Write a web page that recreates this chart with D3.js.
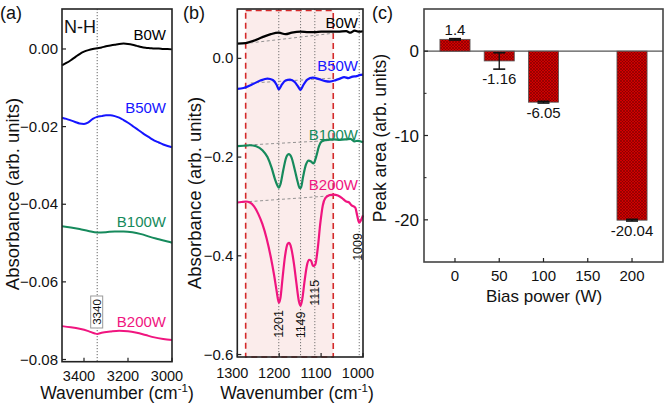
<!DOCTYPE html>
<html><head><meta charset="utf-8">
<script src="https://cdn.jsdelivr.net/npm/d3@7"></script>
<style>
html,body{margin:0;padding:0;background:#fff;}
svg{display:block;font-family:Arial,"Liberation Sans",sans-serif;}
</style></head>
<body>
<svg id="chart" width="664" height="405"></svg>
<script>
// ---------- Panel (a): N-H region ----------
const wnA_B0W = [3500,3480,3460,3440,3420,3400,3380,3360,3340,3320,3300,3280,3260,3240,3220,3200,3180,3160,3140,3120,3100,3080,3060,3040,3020,3000];
const absA_B0W = [-0.0042,-0.0036,-0.0029,-0.0021,-0.0013,-0.0007,-0.0003,0.0,0.0002,0.0004,0.0007,0.0009,0.0011,0.0013,0.0014,0.0013,0.0011,0.0008,0.0005,0.0003,0.0002,0.0001,0.0001,0.0,0.0,-0.0001];
const wnA_B50W = [3500,3480,3460,3440,3420,3400,3380,3360,3340,3320,3300,3280,3260,3240,3220,3200,3180,3160,3140,3120,3100,3080,3060,3040,3020,3000];
const absA_B50W = [-0.0177,-0.0180,-0.0184,-0.0188,-0.0192,-0.0193,-0.0189,-0.0180,-0.0175,-0.0173,-0.0171,-0.0171,-0.0173,-0.0177,-0.0183,-0.0190,-0.0198,-0.0206,-0.0214,-0.0222,-0.0229,-0.0236,-0.0241,-0.0246,-0.0250,-0.0253];
const wnA_B100W = [3500,3460,3420,3380,3340,3300,3260,3220,3180,3140,3100,3060,3020,3000];
const absA_B100W = [-0.0457,-0.0460,-0.0464,-0.0469,-0.0473,-0.0472,-0.0470,-0.0470,-0.0472,-0.0477,-0.0484,-0.0490,-0.0496,-0.0499];
const wnA_B200W = [3500,3460,3420,3380,3350,3340,3320,3280,3240,3200,3160,3120,3080,3040,3000];
const absA_B200W = [-0.0714,-0.0717,-0.0721,-0.0727,-0.0733,-0.0734,-0.0731,-0.0728,-0.0726,-0.0727,-0.0731,-0.0737,-0.0743,-0.0747,-0.0750];
const ticksA_x = [3400,3200,3000];
const ticksA_y = [0,-0.02,-0.04,-0.06,-0.08];
const markA = 3340;

// ---------- Panel (b): Si-O region ----------
const wnB_B0W = [1300,1280,1260,1240,1220,1201,1185,1170,1149,1130,1115,1100,1080,1060,1040,1030,1020,1009,1000];
const absB_B0W = [0.030,0.031,0.036,0.043,0.049,0.052,0.049,0.052,0.054,0.053,0.053,0.054,0.054,0.054,0.055,0.052,0.056,0.054,0.055];
const wnB_B50W = [1300,1285,1265,1245,1228,1215,1206,1201,1195,1185,1174,1163,1155,1149,1143,1133,1120,1105,1090,1079,1065,1055,1045,1035,1025,1015,1009,1000];
const absB_B50W = [-0.062,-0.060,-0.053,-0.045,-0.041,-0.044,-0.054,-0.063,-0.055,-0.045,-0.043,-0.048,-0.057,-0.064,-0.055,-0.043,-0.039,-0.042,-0.046,-0.047,-0.044,-0.041,-0.038,-0.040,-0.037,-0.036,-0.034,-0.033];
const wnB_B100W = [1300,1285,1270,1255,1240,1228,1218,1210,1204,1201,1197,1190,1183,1177,1171,1163,1156,1151,1148,1143,1136,1130,1124,1118,1112,1105,1098,1085,1070,1055,1040,1030,1020,1012,1000];
const absB_B100W = [-0.178,-0.177,-0.176,-0.178,-0.186,-0.200,-0.222,-0.245,-0.258,-0.262,-0.255,-0.225,-0.200,-0.194,-0.200,-0.225,-0.250,-0.263,-0.262,-0.240,-0.215,-0.207,-0.209,-0.213,-0.200,-0.178,-0.168,-0.165,-0.164,-0.165,-0.164,-0.163,-0.168,-0.167,-0.170];
const wnB_B200W = [1300,1290,1280,1270,1260,1250,1240,1230,1220,1212,1206,1201,1197,1192,1186,1180,1176,1171,1165,1159,1153,1149,1145,1140,1134,1129,1124,1119,1114,1108,1102,1096,1090,1080,1070,1060,1050,1040,1033,1027,1022,1018,1014,1009,1005,1000];
const absB_B200W = [-0.292,-0.291,-0.290,-0.292,-0.300,-0.315,-0.336,-0.365,-0.403,-0.440,-0.472,-0.495,-0.485,-0.445,-0.400,-0.376,-0.374,-0.385,-0.415,-0.455,-0.492,-0.501,-0.488,-0.455,-0.420,-0.408,-0.410,-0.421,-0.418,-0.385,-0.335,-0.298,-0.283,-0.277,-0.276,-0.278,-0.283,-0.290,-0.292,-0.298,-0.300,-0.303,-0.318,-0.333,-0.328,-0.318];
// baselines used for peak area [wn1, abs1, wn2, abs2]
const baseB_B0W = [1282, 0.030, 1070, 0.051];
const baseB_B50W = [1268, -0.050, 1070, -0.040];
const baseB_B100W = [1285, -0.176, 1070, -0.166];
const baseB_B200W = [1285, -0.291, 1070, -0.278];
const peakWn = [1201, 1149, 1115, 1009];
const peakLabels = ["1201","1149","1115","1009"];
const peakLabelAbs = [-0.538, -0.540, -0.475, -0.382];
const regionB = [1280, 1071];
const ticksB_x = [1300,1200,1100,1000];
const ticksB_y = [0,-0.2,-0.4,-0.6];

// ---------- Panel (c): peak area ----------
const biasPower = [0, 50, 100, 200];
const peakArea = [1.4, -1.16, -6.05, -20.04];
const peakErr = [0.08, 0.97, 0.1, 0.1];
const ticksC_x = [0,50,100,150,200];
const ticksC_y = [0,-10,-20];
const minorC_y = [-5,-15];

const seriesNames = ["B0W","B50W","B100W","B200W"];
const colors = ["#000000","#1515ff","#168a5c","#f0157f"];

const svg = d3.select("#chart");

const defs = svg.append("defs");
const pat = defs.append("pattern").attr("id","hatch").attr("patternUnits","userSpaceOnUse")
  .attr("width",3).attr("height",3);
pat.append("rect").attr("width",3).attr("height",3).attr("fill","#d00000");
pat.append("path").attr("d","M0,0L3,3M3,0L0,3").attr("stroke","#7a0000").attr("stroke-width",0.6);

function frame(x0,y0,x1,y1,col){
  svg.append("rect").attr("x",x0).attr("y",y0).attr("width",x1-x0).attr("height",y1-y0)
    .attr("fill","none").attr("stroke",col||"#222").attr("stroke-width",1.6);
}
function rotText(x,y,txt,size,anchor){
  return svg.append("text").attr("transform",`translate(${x},${y}) rotate(-90)`)
    .attr("text-anchor",anchor||"middle").attr("font-size",size).attr("fill","#111").text(txt);
}
function wavTitle(cx,y){
  const t = svg.append("text").attr("x",cx).attr("y",y).attr("text-anchor","middle")
    .attr("font-size",17.5).attr("fill","#111");
  t.append("tspan").text("Wavenumber (cm");
  t.append("tspan").attr("font-size",11.5).attr("dy",-7).text("-1");
  t.append("tspan").attr("dy",7).text(")");
}

// ===== Panel A =====
const ax0=62, ax1=172, ay0=9, ay1=361.7;
const xA = d3.scaleLinear().domain([3500,3000]).range([ax0,ax1]);
const yA = d3.scaleLinear().domain([-0.08,0.0103]).range([359.5,ay0]);
svg.append("line").attr("x1",xA(markA)).attr("x2",xA(markA)).attr("y1",ay0).attr("y2",ay1)
  .attr("stroke","#555").attr("stroke-width",0.9).attr("stroke-dasharray","1.2,1.8");
const lineA = d3.line().x(d=>xA(d[0])).y(d=>yA(d[1])).curve(d3.curveMonotoneX);
const seriesA = [[wnA_B0W,absA_B0W],[wnA_B50W,absA_B50W],[wnA_B100W,absA_B100W],[wnA_B200W,absA_B200W]];
seriesA.forEach((s,i)=>{
  svg.append("path").datum(s[0].map((w,j)=>[w,s[1][j]])).attr("d",lineA)
    .attr("fill","none").attr("stroke",colors[i]).attr("stroke-width",2);
});
frame(ax0,ay0,ax1,ay1);
ticksA_y.forEach(v=>{
  svg.append("line").attr("x1",ax0).attr("x2",ax0+4).attr("y1",yA(v)).attr("y2",yA(v)).attr("stroke","#222").attr("stroke-width",1.2);
  svg.append("text").attr("x",ax0-4).attr("y",yA(v)+5).attr("text-anchor","end").attr("font-size",15).attr("fill","#111").text(d3.format(".2f")(v));
});
ticksA_x.forEach(v=>{
  svg.append("line").attr("x1",xA(v)).attr("x2",xA(v)).attr("y1",ay1).attr("y2",ay1-4).attr("stroke","#222").attr("stroke-width",1.2);
  svg.append("text").attr("x",xA(v)-5).attr("y",381).attr("text-anchor","middle").attr("font-size",14.5).attr("fill","#111").text(v);
});
svg.append("text").attr("x",64).attr("y",33).attr("font-size",18).attr("fill","#111").text("N-H");
const labA_y = [40,113,227,327];
seriesNames.forEach((n,i)=>{
  svg.append("text").attr("x",166).attr("y",labA_y[i]).attr("text-anchor","end").attr("font-size",15)
    .attr("fill",colors[i]).text(n);
});
svg.append("rect").attr("x",xA(markA)-6.5).attr("y",296).attr("width",12).attr("height",32)
  .attr("fill","#fff").attr("stroke","#999").attr("stroke-width",1);
rotText(xA(markA)+4,312,String(markA),11.5);
rotText(19,194,"Absorbance (arb. units)",18.5);
wavTitle(117,399);
svg.append("text").attr("x",0).attr("y",19).attr("font-size",18).attr("fill","#111").text("(a)");

// ===== Panel B =====
const bx0=237.3, bx1=363, by0=9, by1=357;
const xB = d3.scaleLinear().domain([1300,1000]).range([bx0,bx1]);
const yB = d3.scaleLinear().domain([-0.605,0.1]).range([by1,by0]);
svg.append("rect").attr("x",xB(regionB[0])).attr("y",by0+1.5).attr("width",xB(regionB[1])-xB(regionB[0])).attr("height",by1-by0-1.5)
  .attr("fill","#fbeceb").attr("stroke","#d42a2a").attr("stroke-width",1.6).attr("stroke-dasharray","6,4");
peakWn.forEach(w=>{
  svg.append("line").attr("x1",xB(w)).attr("x2",xB(w)).attr("y1",by0).attr("y2",by1)
    .attr("stroke","#666").attr("stroke-width",0.9).attr("stroke-dasharray","1.2,1.8");
});
[baseB_B0W,baseB_B50W,baseB_B100W,baseB_B200W].forEach(b=>{
  svg.append("line").attr("x1",xB(b[0])).attr("y1",yB(b[1])).attr("x2",xB(b[2])).attr("y2",yB(b[3]))
    .attr("stroke","#888").attr("stroke-width",0.9).attr("stroke-dasharray","3,2.5");
});
const lineB = d3.line().x(d=>xB(d[0])).y(d=>yB(d[1])).curve(d3.curveMonotoneX);
const seriesB = [[wnB_B0W,absB_B0W],[wnB_B50W,absB_B50W],[wnB_B100W,absB_B100W],[wnB_B200W,absB_B200W]];
seriesB.forEach((s,i)=>{
  svg.append("path").datum(s[0].map((w,j)=>[w,s[1][j]])).attr("d",lineB)
    .attr("fill","none").attr("stroke",colors[i]).attr("stroke-width",2.2);
});
frame(bx0,by0,bx1,by1);
ticksB_y.forEach(v=>{
  svg.append("line").attr("x1",bx0).attr("x2",bx0+4).attr("y1",yB(v)).attr("y2",yB(v)).attr("stroke","#222").attr("stroke-width",1.2);
  svg.append("text").attr("x",bx0-4).attr("y",yB(v)+5).attr("text-anchor","end").attr("font-size",15).attr("fill","#111").text(d3.format(".1f")(v));
});
ticksB_x.forEach(v=>{
  svg.append("line").attr("x1",xB(v)).attr("x2",xB(v)).attr("y1",by1).attr("y2",by1-4).attr("stroke","#222").attr("stroke-width",1.2);
  svg.append("text").attr("x",xB(v)-5).attr("y",378).attr("text-anchor","middle").attr("font-size",14.5).attr("fill","#111").text(v);
});
const labB_y = [28,71,140,190];
seriesNames.forEach((n,i)=>{
  svg.append("text").attr("x",358).attr("y",labB_y[i]).attr("text-anchor","end").attr("font-size",15)
    .attr("fill",colors[i]).text(n);
});
peakWn.forEach((w,i)=>{
  rotText(xB(w)+4.3-(i===3?2:0), yB(peakLabelAbs[i]), peakLabels[i], 12.5);
});
rotText(201,193,"Absorbance (arb. units)",18.5);
wavTitle(297,399);
svg.append("text").attr("x",183).attr("y",19).attr("font-size",18).attr("fill","#111").text("(b)");

// ===== Panel C =====
const cx0=424, cx1=663, cy0=9, cy1=262;
const xC = d3.scaleLinear().domain([-35,235]).range([cx0,cx1]);
const yC = d3.scaleLinear().domain([-25,5]).range([cy1,cy0]);
const bw = xC(34)-xC(0);
svg.append("line").attr("x1",cx0).attr("x2",cx1).attr("y1",yC(0)).attr("y2",yC(0)).attr("stroke","#555").attr("stroke-width",1.2);
biasPower.forEach((p,i)=>{
  const v=peakArea[i];
  svg.append("rect").attr("x",xC(p)-bw/2).attr("y",yC(Math.max(v,0))).attr("width",bw)
    .attr("height",Math.abs(yC(v)-yC(0))).attr("fill","url(#hatch)").attr("stroke","#555").attr("stroke-width",0.8);
});
biasPower.forEach((p,i)=>{
  const v=peakArea[i], e=peakErr[i], cx=xC(p);
  svg.append("line").attr("x1",cx).attr("x2",cx).attr("y1",yC(v-e)).attr("y2",yC(v+e)).attr("stroke","#111").attr("stroke-width",1.3);
  [v-e,v+e].forEach(q=>svg.append("line").attr("x1",cx-6).attr("x2",cx+6).attr("y1",yC(q)).attr("y2",yC(q)).attr("stroke","#111").attr("stroke-width",1.6));
  const ty = v>0 ? yC(v+e)-4 : yC(v-e)+15;
  svg.append("text").attr("x",cx).attr("y",ty).attr("text-anchor","middle").attr("font-size",15).attr("fill","#111").text(String(v));
});
frame(cx0,cy0,cx1,cy1,"#444");
ticksC_y.forEach(v=>{
  svg.append("line").attr("x1",cx0).attr("x2",cx0+4).attr("y1",yC(v)).attr("y2",yC(v)).attr("stroke","#222").attr("stroke-width",1.2);
  svg.append("text").attr("x",cx0-5).attr("y",yC(v)+6).attr("text-anchor","end").attr("font-size",17).attr("fill","#111").text(v);
});
minorC_y.forEach(v=>{
  svg.append("line").attr("x1",cx0).attr("x2",cx0+2.5).attr("y1",yC(v)).attr("y2",yC(v)).attr("stroke","#222").attr("stroke-width",1);
});
ticksC_x.forEach(v=>{
  svg.append("line").attr("x1",xC(v)).attr("x2",xC(v)).attr("y1",cy1).attr("y2",cy1-4).attr("stroke","#222").attr("stroke-width",1.2);
  svg.append("text").attr("x",xC(v)).attr("y",281).attr("text-anchor","middle").attr("font-size",15).attr("fill","#111").text(v);
});
rotText(386,138,"Peak area (arb. units)",17.5);
svg.append("text").attr("x",544).attr("y",302).attr("text-anchor","middle").attr("font-size",17).attr("fill","#111").text("Bias power (W)");
svg.append("text").attr("x",372).attr("y",19).attr("font-size",18).attr("fill","#111").text("(c)");
</script>
</body></html>
